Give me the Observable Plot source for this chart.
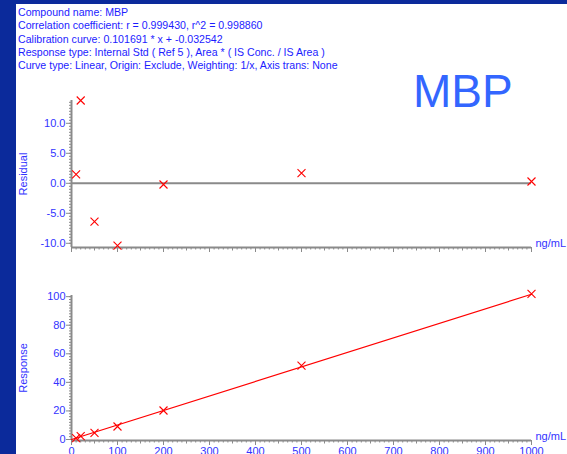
<!DOCTYPE html>
<html><head><meta charset="utf-8">
<script src="https://cdn.jsdelivr.net/npm/d3@7"></script>
<script src="https://cdn.jsdelivr.net/npm/@observablehq/plot@0.6"></script>
<style>
html,body{margin:0;padding:0;}
body{width:567px;height:454px;background:#0b2a9b;position:relative;overflow:hidden;font-family:Arial,"Liberation Sans",sans-serif;}
#panel{position:absolute;left:16px;top:4px;width:551px;height:450px;background:#fff;overflow:hidden;}
#header{position:absolute;left:2px;top:2px;font-size:10.6px;line-height:13.3px;color:#1c1cff;white-space:pre;}
#name{position:absolute;left:397px;top:64px;font-size:46px;line-height:1;color:#3366ff;}
#resid{position:absolute;left:0;top:86px;}
#resp{position:absolute;left:0;top:281px;}
</style></head><body>
<div id="panel"><div id="header"></div><div id="name"></div><div id="resid"></div><div id="resp"></div></div>
<script>
const compound = "MBP";
const headerLines = [
  "Compound name: MBP",
  "Correlation coefficient: r = 0.999430, r^2 = 0.998860",
  "Calibration curve: 0.101691 * x + -0.032542",
  "Response type: Internal Std ( Ref 5 ), Area * ( IS Conc. / IS Area )",
  "Curve type: Linear, Origin: Exclude, Weighting: 1/x, Axis trans: None"
];
const conc = [10, 20, 50, 100, 200, 500, 1000];
const residual = [1.5, 13.8, -6.4, -10.4, -0.2, 1.7, 0.3];
const response = [1.0, 2.3, 4.7, 9.1, 20.3, 51.7, 102.0];
const fitConc = [0, 1000];
const fitResponse = [-0.03, 101.66];
const xTicks = [0, 100, 200, 300, 400, 500, 600, 700, 800, 900, 1000];
const residTicks = [-10, -5, 0, 5, 10];
const respTicks = [0, 20, 40, 60, 80, 100];
const unit = "ng/mL";
const residLabel = "Residual";
const respLabel = "Response";

document.getElementById("header").textContent = headerLines.join("\n");
document.getElementById("name").textContent = compound;

const GRAY = "#8a8a8a", BLUE = "#3333ff", RED = "#ff0000";
const xMinor = d3.range(0, 1001, 10);
const xMid = d3.range(50, 1000, 100);
const style = {fontFamily: "Arial, 'Liberation Sans', sans-serif", fontSize: "11px", background: "transparent", overflow: "visible"};

// "x" shaped marker drawn with strokes
const crossSymbol = {
  draw(ctx, size) {
    const h = Math.sqrt(size) / 2;
    ctx.moveTo(-h, -h); ctx.lineTo(h, h);
    ctx.moveTo(h, -h); ctx.lineTo(-h, h);
  }
};

function xAxes(withLabels) {
  return [
    Plot.axisX(xMinor, {tickSize: 2.5, tickFormat: () => "", stroke: GRAY, label: null}),
    Plot.axisX(xMid, {tickSize: 3.5, tickFormat: () => "", stroke: GRAY, label: null}),
    Plot.axisX(xTicks, {tickSize: 5, tickPadding: 2, stroke: GRAY, fill: BLUE, label: null,
      tickFormat: withLabels ? (d => String(d)) : (() => "")})
  ];
}

function crosses(data) {
  return Plot.dot(data, {x: "x", y: "y", symbol: crossSymbol, r: 4.5, fill: "none",
    stroke: () => RED, strokeWidth: 1.1, strokeOpacity: 1, mixBlendMode: "normal"});
}

const residData = conc.map((c, i) => ({x: c, y: residual[i]}));
const residDomain = [-10.7, 13.8];
const p1 = Plot.plot({
  width: 551, height: 169,
  marginLeft: 55, marginRight: 36, marginTop: 10, marginBottom: 12,
  style,
  x: {domain: [0, 1000]},
  y: {domain: residDomain},
  marks: [
    ...xAxes(false),
    Plot.axisY(d3.range(-10, 13.6, 0.5), {tickSize: 2, tickFormat: () => "", stroke: GRAY, label: null}),
    Plot.axisY(residTicks, {tickSize: 5, tickPadding: 1, stroke: GRAY, fill: BLUE,
      tickFormat: d => d.toFixed(1), label: residLabel, labelAnchor: "center", labelArrow: false, labelOffset: 52}),
    Plot.ruleX([0], {stroke: GRAY, strokeWidth: 2}),
    Plot.ruleY([residDomain[0]], {stroke: GRAY, strokeWidth: 2}),
    Plot.ruleY([0], {stroke: GRAY, strokeWidth: 2}),
    crosses(residData),
    Plot.text([unit], {frameAnchor: "bottom-right", textAnchor: "start", dx: 4, dy: -1, fill: BLUE, fontSize: 11})
  ]
});
document.getElementById("resid").appendChild(p1);

const respData = conc.map((c, i) => ({x: c, y: response[i]}));
const fitData = fitConc.map((c, i) => ({x: c, y: fitResponse[i]}));
const respDomain = [-0.7, 100.8];
const p2 = Plot.plot({
  width: 551, height: 175,
  marginLeft: 55, marginRight: 36, marginTop: 10, marginBottom: 20,
  style,
  x: {domain: [0, 1000]},
  y: {domain: respDomain},
  color: {type: "identity"},
  marks: [
    ...xAxes(true),
    Plot.axisY(d3.range(0, 101, 2), {tickSize: 2, tickFormat: () => "", stroke: GRAY, label: null}),
    Plot.axisY(respTicks, {tickSize: 5, tickPadding: 1, stroke: GRAY, fill: BLUE,
      tickFormat: d => String(d), label: respLabel, labelAnchor: "center", labelArrow: false, labelOffset: 52}),
    Plot.ruleX([0], {stroke: GRAY, strokeWidth: 2}),
    Plot.ruleY([respDomain[0]], {stroke: GRAY, strokeWidth: 2}),
    Plot.line(fitData, {x: "x", y: "y", stroke: RED, strokeWidth: 1.2}),
    crosses(respData),
    Plot.text([unit], {frameAnchor: "bottom-right", textAnchor: "start", dx: 4, dy: -1, fill: BLUE, fontSize: 11})
  ]
});
document.getElementById("resp").appendChild(p2);
</script>
</body></html>
